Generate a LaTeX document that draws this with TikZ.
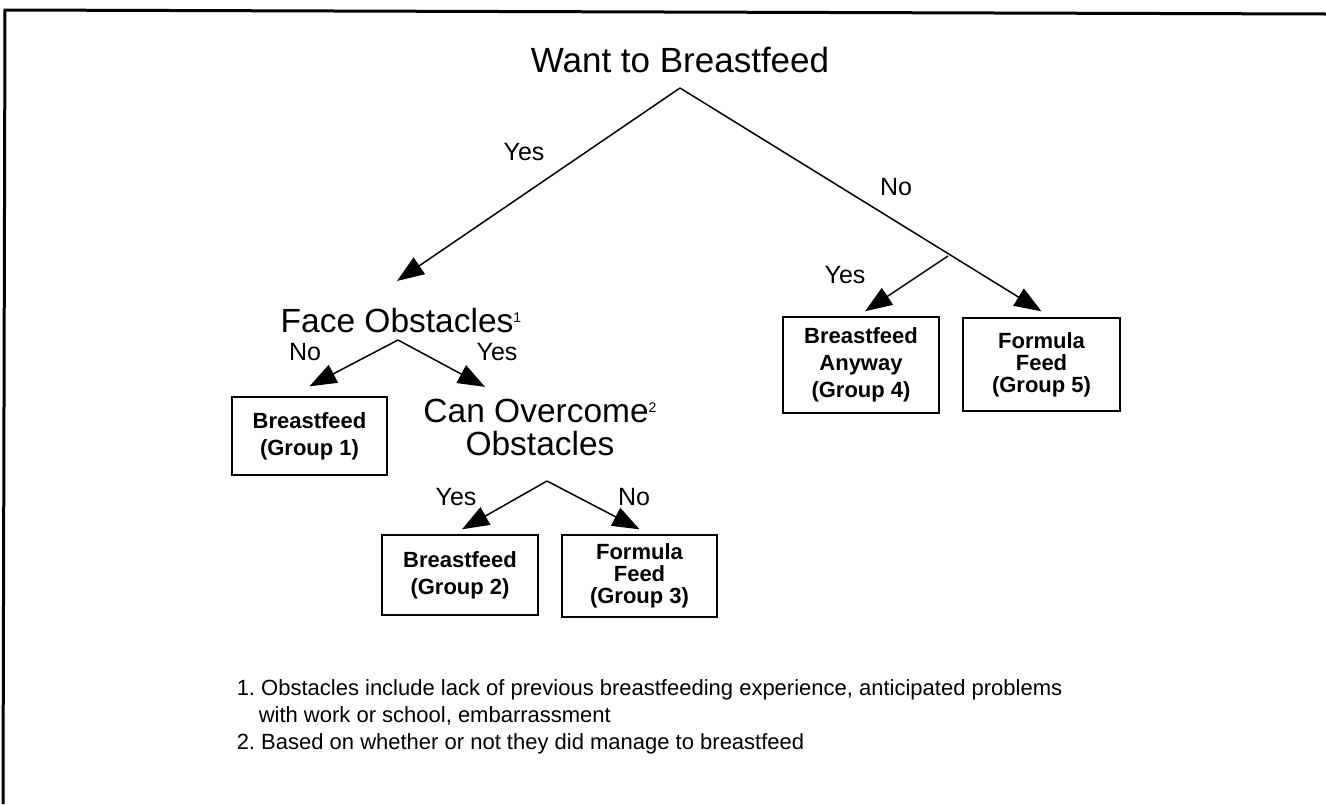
\documentclass[tikz,border=0pt]{standalone}
\usepackage{fontspec}
\setmainfont{Liberation Sans}
\usetikzlibrary{arrows.meta,positioning}
\newcommand{\supnum}[1]{{\fontsize{14}{14}\selectfont\raisebox{10pt}{#1}}}

\begin{document}
\frenchspacing
\begin{tikzpicture}[x=1pt, y=1pt, ->, >={Triangle[length=27pt,width=20pt]}, line width=1.5pt,
  big/.style={font=\fontsize{33.5}{33}\selectfont, inner sep=0pt, anchor=base},
  ans/.style={font=\fontsize{25}{30}\selectfont, inner sep=0pt, anchor=base},
  grp/.style={draw, line width=1.4pt, align=center, inner sep=0pt,
              font=\bfseries\fontsize{22}{27}\selectfont},
  note/.style={font=\fontsize{22}{27}\selectfont, inner sep=0pt, anchor=base west}]
\useasboundingbox (0,0) rectangle (1326,-804);
\draw[-, line width=3pt] (1326,-14) -- (5,-10) -- (3,-804);

\node[big, font=\fontsize{35}{35}\selectfont] (want) at (680,-72) {Want to Breastfeed};
\node[big] (face) at (401,-332) {Face Obstacles\supnum{1}};
\node[big] (can) at (540,-422) {Can Overcome\supnum{2}};
\node[big] (obst) at ([yshift=-33]can.base) {Obstacles};

\node[grp, minimum width=155, minimum height=78] (b1) at (309.5,-436) {Breastfeed\\(Group 1)};
\node[grp, minimum width=156, minimum height=80] (b2) at (460,-575) {Breastfeed\\(Group 2)};
\node[grp, minimum width=155, minimum height=82] (b3) at (639.5,-576) {Formula\\[-5pt]Feed\\[-5pt](Group 3)};
\node[grp, minimum width=156, minimum height=96] (b4) at (861,-365) {Breastfeed\\Anyway\\(Group 4)};
\node[grp, minimum width=157, minimum height=93] (b5) at (1041.5,-364.5) {Formula\\[-5pt]Feed\\[-5pt](Group 5)};

\coordinate (s0) at (680,-88);
\coordinate (s1) at (398,-340);
\coordinate (s2) at (547,-481);
\coordinate (s3) at (948,-256);

% branches
\draw (s0) -- ([xshift=-4,yshift=26]face.north);
\draw (s0) -- ([yshift=6]b5.north);
\draw (s3) -- ([xshift=4,yshift=5]b4.north);
\draw (s1) -- ([yshift=10]b1.north);
\draw (s1) -- ([xshift=-55,yshift=11]can.north);
\draw (s2) -- ([xshift=2,yshift=5]b2.north);
\draw (s2) -- ([yshift=5]b3.north);

\node[ans] (y0) at (524,-160) {Yes};
\node[ans] (n0) at (896,-195) {No};
\node[ans] (y3) at (845,-283) {Yes};
\node[ans] (n1) at (305,-360) {No};
\node[ans] (y1) at (497,-360) {Yes};
\node[ans] (y2) at (456,-505) {Yes};
\node[ans] (n2) at (634,-505) {No};

\node[note] (f1) at (236,-695) {1. Obstacles include lack of previous breastfeeding experience, anticipated problems};
\node[note] (f2) at (258,-722) {with work or school, embarrassment};
\node[note] (f3) at (236,-749) {2. Based on whether or not they did manage to breastfeed};
\end{tikzpicture}
\end{document}
